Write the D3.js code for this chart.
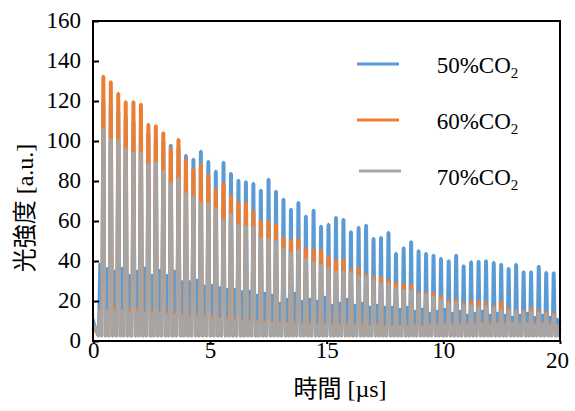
<!DOCTYPE html>
<html><head><meta charset="utf-8">
<script src="https://cdn.jsdelivr.net/npm/d3@7"></script>
<style>body{margin:0;background:#fff}</style>
</head><body><svg id="c" width="575" height="411"></svg>
<script>
const seriesNames = ["50%CO", "60%CO", "70%CO"];
const seriesColors = ["#5B9BD5", "#ED7D31", "#A5A5A5"];
const pulseTimes = [0.43,0.75,1.07,1.39,1.72,2.04,2.36,2.68,3.00,3.32,
  3.65,3.97,4.29,4.61,4.93,5.25,5.58,5.90,6.22,6.54,
  6.86,7.18,7.51,7.83,8.15,8.47,8.79,9.11,9.44,9.76,
  10.08,10.40,10.72,11.04,11.37,11.69,12.01,12.33,12.65,12.97,
  13.30,13.62,13.94,14.26,14.58,14.90,15.23,15.55,15.87,16.19,
  16.51,16.83,17.16,17.48,17.80,18.12,18.44,18.76,19.09,19.41,19.73];
const midTimes = [0.27,0.59,0.91,1.23,1.55,1.88,2.20,2.52,2.84,3.16,
  3.49,3.81,4.13,4.45,4.77,5.09,5.42,5.74,6.06,6.38,
  6.70,7.02,7.35,7.67,7.99,8.31,8.63,8.95,9.28,9.60,
  9.92,10.24,10.56,10.88,11.21,11.53,11.85,12.17,12.49,12.81,
  13.14,13.46,13.78,14.10,14.42,14.74,15.07,15.39,15.71,16.03,
  16.35,16.67,17.00,17.32,17.64,17.96,18.28,18.60,18.93,19.25,19.57,19.89];
const peaks50 = [120,118,115,112,110,108,104,102,100,98,
  97,92.9,91,95,89.9,85,89.5,83.9,80.5,79.7,
  78.9,75.5,81,75,71,66,69.4,62.5,65.5,57.5,
  58.4,61.9,60.9,54.7,56.9,58,51.4,51.9,54.4,43.9,
  46.7,49.7,45.2,43.9,43,41.4,40.2,43,37.7,39.7,
  40,40.2,39.4,38.5,36.4,38.4,34.7,34.7,37.5,34.4,34.2];
const peaks60 = [132.5,129.7,123.9,119.7,119.7,118.5,108.4,107.7,104.2,96.5,
  100.9,90.9,86,88.4,83,75.9,78.9,72.5,69.4,68.9,
  65,60,59.7,58.4,51.7,50.5,51,46.2,45.9,45.5,
  42.2,40.5,41,35.5,36.4,33.4,32.2,31.7,30.5,28.9,
  28.4,28,24.4,24.2,23.9,22.5,20.2,20.5,18.9,19.7,
  19.7,19.4,17.2,19.7,16.4,15.5,15.5,16.4,15.5,14.7,13.9];
const peaks70 = [105.9,101,100.5,96.2,94.2,93.9,88.4,89.2,85.2,78.9,
  81.4,73.9,72.2,69.2,68.9,65.9,60.5,63.4,58,57.2,
  56.9,51.4,51,50,45.9,44.2,45.5,41,39.5,38,
  36.4,34.7,34.7,33.9,32.5,32.2,30.5,28.9,28.9,26.4,
  25.5,25.5,23.5,23,22.2,20.5,18.9,19.4,18,17.7,
  17.2,17.2,16.4,15.5,15.5,14.7,14.7,14.7,13.9,13.9,13];
const mids50 = [38.5,36.4,35,36.5,32.8,35,36.5,32.8,35.3,32.8,
  35,29.7,29.7,30.5,27.5,28,26.7,25.9,25.9,24.7,
  25,23,24,23,19,21,24,20,21,20,
  22,18,19,21,18,19,17,18,17,17,
  16,17,15,16,14,15,16,14,15,13,
  14,15,13,14,13,12,13,14,12,13,12,11];
const mids60 = [16,15,16.5,15,15.5,16,14,15,14.5,14.5,
  14,13.5,13,13.5,12,12.5,11.5,11.5,11,10.5,
  10.5,10,10,9.5,9.5,9,9,8.5,9,8,
  8,8.5,8,8,8,8,7.5,8,7.5,7.5,
  8,7.5,8,7.5,8,8,8.5,8,8.5,8.5,
  8.5,9,8.5,9,8.5,9,8.5,9,8.5,9,8.5,7];
const mids70 = [15,15,14.5,15,14,14.5,14,13.5,14,13,
  13,12.5,12,12,11.5,11,11,10.5,10,10,
  9.5,9.5,9,9,8.5,8.5,8,8,8,7.5,
  7.5,7.5,7.5,7,7.5,7,7,7.5,7,7,
  7.5,7,7.5,7,7.5,7.5,8,7.5,8,8,
  8,8.5,8,8.5,8,8.5,8,8.5,8,8.5,8,8];
const startValues = [11, 7, 9];
const endValues = [10, 5, 6];
const lowLevels = [2.5, 2.5, 2.5];
const xTicks = [0, 5, 10, 15, 20];
const xTickLabels = ["0", "5", "15", "10", "20"];
const yTicks = [0, 20, 40, 60, 80, 100, 120, 140, 160];

const peaks = [peaks50, peaks60, peaks70];
const mids = [mids50, mids60, mids70];

const svg = d3.select("#c");
const x = d3.scaleLinear().domain([0, 20]).range([93.3, 560]);
const y = d3.scaleLinear().domain([0, 160]).range([341, 21]);
const serif = "'Liberation Serif', 'Times New Roman', 'Noto Sans CJK JP', serif";

const mainHW = 0.7, midHW = 0.3;
function buildPoints(k) {
  const pts = [];
  const lo = y(lowLevels[k]);
  pts.push([x(0), y(startValues[k])]);
  for (let i = 0; i < pulseTimes.length; i++) {
    const mx = x(midTimes[i]);
    pts.push([mx - midHW - 1.2, lo], [mx, y(mids[k][i])], [mx + midHW + 1.2, lo]);
    const px = x(pulseTimes[i]);
    pts.push([px - mainHW - 1.0, lo], [px - mainHW, y(peaks[k][i]) + 1], [px, y(peaks[k][i])], [px + mainHW, y(peaks[k][i]) + 1], [px + mainHW + 1.0, lo]);
  }
  const lastMid = x(midTimes[midTimes.length - 1]);
  pts.push([lastMid - 1.2, lo], [lastMid, y(mids[k][midTimes.length - 1])], [lastMid + 1.2, lo]);
  pts.push([x(20), y(endValues[k])]);
  return pts;
}

const line = d3.line();
const g = svg.append("g");
[0, 1, 2].forEach(k => {
  g.append("path")
    .attr("d", line(buildPoints(k)))
    .attr("fill", "none")
    .attr("stroke", seriesColors[k])
    .attr("stroke-width", 2.6)
    .attr("stroke-linejoin", "round")
    .attr("stroke-linecap", "round");
});

// frame
svg.append("rect").attr("x", 93).attr("y", 21).attr("width", 467).attr("height", 320)
  .attr("fill", "none").attr("stroke", "#000").attr("stroke-width", 2);

// y axis
const yAxis = svg.append("g").attr("transform", "translate(93,0)")
  .call(d3.axisLeft(y).tickValues(yTicks).tickSize(-6).tickPadding(12));
yAxis.attr("font-family", null).attr("font-size", null);
yAxis.select(".domain").remove();
yAxis.selectAll("line").attr("stroke", "#000").attr("stroke-width", 2);
yAxis.selectAll("text").style("font-family", serif).style("font-size", "23px").attr("fill", "#000").attr("dy", "0.3em");

// x axis
const xAxis = svg.append("g").attr("transform", "translate(0,341)")
  .call(d3.axisBottom(x).tickValues(xTicks).tickSize(3).tickPadding(-2).tickFormat((d, i) => xTickLabels[i]));
xAxis.attr("font-family", null).attr("font-size", null);
xAxis.select(".domain").remove();
xAxis.selectAll("line").attr("stroke", "#000").attr("stroke-width", 2);
xAxis.selectAll("text").style("font-family", serif).style("font-size", "23px").attr("fill", "#000").attr("dy", "0.71em");
xAxis.selectAll("text").filter((d, i) => i === xTicks.length - 1).attr("dx", -3).attr("dy", "1.15em");

// titles
svg.append("text").attr("x", 340).attr("y", 397).attr("text-anchor", "middle")
  .style("font-family", serif).style("font-size", "24px").attr("fill", "#000").text("時間 [µs]");
svg.append("text").attr("transform", "translate(33,208) rotate(-90)").attr("text-anchor", "middle")
  .style("font-family", serif).style("font-size", "24px").attr("fill", "#000").text("光強度 [a.u.]");

// legend
const legendRows = [
  {ly: 64, lx1: 357, lx2: 399, ty: 73.3},
  {ly: 120, lx1: 357, lx2: 399, ty: 129.3},
  {ly: 171, lx1: 359, lx2: 401, ty: 185}
];
legendRows.forEach((r, k) => {
  svg.append("line").attr("x1", r.lx1).attr("x2", r.lx2).attr("y1", r.ly).attr("y2", r.ly)
    .attr("stroke", seriesColors[k]).attr("stroke-width", 3);
  const t = svg.append("text").attr("x", 436.7).attr("y", r.ty)
    .style("font-family", serif).style("font-size", "23px").attr("fill", "#000");
  t.append("tspan").text(seriesNames[k]);
  t.append("tspan").style("font-size", "15px").attr("dy", 4.5).text("2");
});
</script>
</body></html>
